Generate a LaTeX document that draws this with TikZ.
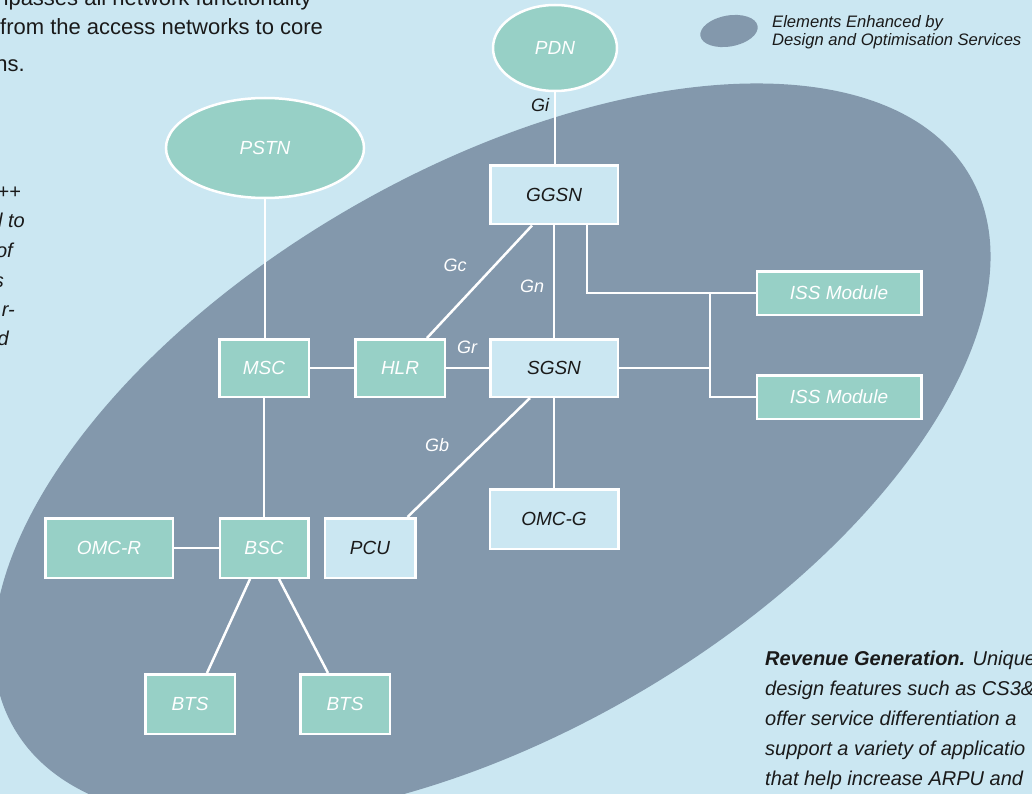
\documentclass[tikz,border=0pt]{standalone}
\usepackage{fontspec}
\setmainfont{Liberation Sans}
\usetikzlibrary{shapes.geometric,calc}
\definecolor{bgblue}{HTML}{CBE7F2}
\definecolor{ellgray}{HTML}{8398AC}
\definecolor{tealbox}{HTML}{97D0C6}
\definecolor{ink}{HTML}{1A1A1A}
\tikzset{
  box/.style={draw=white, line width=2.5pt, inner sep=0pt, font=\fontsize{19}{22}\selectfont\itshape},
  tbox/.style={box, fill=tealbox, text=white},
  lbox/.style={box, fill=bgblue, text=ink},
  cloud/.style={ellipse, draw=white, line width=2.5pt, fill=tealbox, text=white, inner sep=0pt, font=\fontsize{19}{22}\selectfont\itshape},
  conn/.style={draw=white, line width=2.5pt},
  lab/.style={font=\fontsize{18}{20}\selectfont\itshape, text=white, inner sep=0pt},
  body/.style={font=\fontsize{22}{26}\selectfont, text=ink, inner sep=0pt},
  sidetxt/.style={font=\fontsize{20}{24}\selectfont\itshape, text=ink, inner sep=0pt},
  legtxt/.style={font=\fontsize{16.6}{18}\selectfont\itshape, text=ink, inner sep=0pt},
}
\begin{document}
\begin{tikzpicture}[x=1pt,y=-1pt]
\useasboundingbox (0,0) rectangle (1032,794);
\fill[bgblue] (0,0) rectangle (1032,794);
\begin{scope}
\clip (0,0) rectangle (1032,794);
% big ellipse
\fill[ellgray, rotate around={30:(492,452)}] (492,452) ellipse [x radius=552pt, y radius=282pt];
% legend
\fill[ellgray, rotate around={10:(729,31)}] (729,31) ellipse [x radius=29pt, y radius=15.5pt];
\node[legtxt, anchor=base west] (leg1) at (772,28) {Elements Enhanced by};
\node[legtxt, anchor=base west] (leg2) at (772,46) {Design and Optimisation Services};
% top-left body text fragments
\node[body, anchor=base east] (t1) at (312,6) {npasses all network functionality};
\node[body, anchor=base west] (t2) at (0,35) {from the access networks to core};
\node[body, anchor=base east] (t3) at (25,72) {ns.};
% left side fragments
\node[sidetxt, anchor=base east] (s1) at (21,199) {++};
\node[sidetxt, anchor=base east] (s2) at (25,228) {l to};
\node[sidetxt, anchor=base east] (s3) at (13,258) {of};
\node[sidetxt, anchor=base east] (s4) at (4,287) {s};
\node[sidetxt, anchor=base east] (s5) at (15,316) {r-};
\node[sidetxt, anchor=base east] (s6) at (9,345) {d};
% bottom right text
\node[sidetxt, anchor=base west] (r1) at (765,665) {\textbf{Revenue Generation.} Unique};
\node[sidetxt, anchor=base west] (r2) at (765,695) {design features such as CS3\&};
\node[sidetxt, anchor=base west] (r3) at (765,725) {offer service differentiation a};
\node[sidetxt, anchor=base west] (r4) at (765,755) {support a variety of applicatio};
\node[sidetxt, anchor=base west] (r5) at (765,785) {that help increase ARPU and};
\end{scope}

% nodes
\node[cloud, minimum width=124pt, minimum height=86pt] (pdn) at (555,48) {PDN};
\node[cloud, minimum width=198pt, minimum height=100pt] (pstn) at (265,148) {PSTN};
\node[lbox, minimum width=127.5pt, minimum height=58.5pt] (ggsn) at (554,195) {GGSN};
\node[tbox, minimum width=89.5pt, minimum height=57.5pt] (msc) at (264,368) {MSC};
\node[tbox, minimum width=89.5pt, minimum height=57.5pt] (hlr) at (400,368) {HLR};
\node[lbox, minimum width=127.5pt, minimum height=57.5pt] (sgsn) at (554,368) {SGSN};
\node[tbox, minimum width=164.5pt, minimum height=43.5pt] (iss1) at (839,293) {ISS Module};
\node[tbox, minimum width=164.5pt, minimum height=43.5pt] (iss2) at (839,397) {ISS Module};
\node[lbox, minimum width=128.5pt, minimum height=59.5pt] (omcg) at (554,519) {OMC-G};
\node[lbox, minimum width=90.5pt, minimum height=59.5pt] (pcu) at (370,548) {PCU};
\node[tbox, minimum width=88.5pt, minimum height=59.5pt] (bsc) at (264,548) {BSC};
\node[tbox, minimum width=127.5pt, minimum height=59.5pt] (omcr) at (109,548) {OMC-R};
\node[tbox, minimum width=89.5pt, minimum height=59.5pt] (btsl) at (190,704) {BTS};
\node[tbox, minimum width=89.5pt, minimum height=59.5pt] (btsr) at (345,704) {BTS};
\coordinate (bus) at (710,293);

% connectors
\draw[conn] (pdn.south) -- (pdn.south |- ggsn.north);
\draw[conn] (pstn.south) -- (pstn.south |- msc.north);
\draw[conn] (msc) -- (hlr);
\draw[conn] (hlr) -- (sgsn);
\draw[conn] (ggsn) -- (sgsn);
\draw[conn] (sgsn) -- (omcg);
\draw[conn] (msc) -- (bsc);
\draw[conn] (omcr) -- (bsc);
\draw[conn] ([xshift=27pt]hlr.north) -- ([xshift=-22pt]ggsn.south);
\draw[conn] ([xshift=33pt]ggsn.south) |- (iss1.west);
\draw[conn] (bus) |- (iss2.west);
\draw[conn] (sgsn.east) -- (sgsn.east -| bus);
\draw[conn] ([xshift=-24pt]sgsn.south) -- ([xshift=-9pt]pcu.north east);
\draw[conn] ([xshift=-14pt]bsc.south) -- ([xshift=17pt]btsl.north);
\draw[conn] ([xshift=15pt]bsc.south) -- ([xshift=-17pt]btsr.north);

% interface labels
\node[lab, text=ink] (gi) at (540,105) {Gi};
\node[lab] (gc) at (455,265) {Gc};
\node[lab] (gn) at (532,286) {Gn};
\node[lab] (gr) at (467,347) {Gr};
\node[lab] (gb) at (437,445) {Gb};
\end{tikzpicture}
\end{document}
